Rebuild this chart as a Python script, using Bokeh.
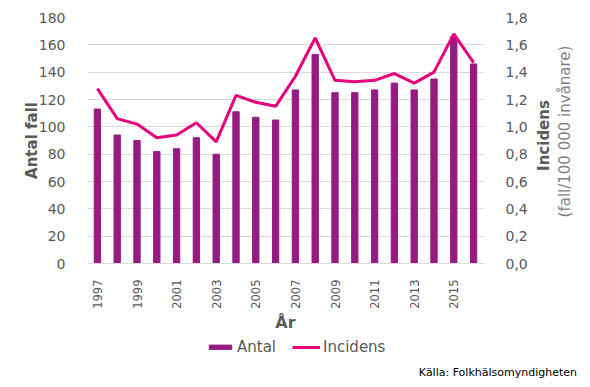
import math
from bokeh.plotting import figure
from bokeh.layouts import row
from bokeh.models import (Range1d, LinearAxis, FixedTicker, CustomJSTickFormatter,
                          Legend, LegendItem, Label)
from bokeh.embed import file_html
from bokeh.resources import INLINE

years = list(range(1997, 2017))
antal = [113, 94, 90, 82, 84, 92, 80, 111, 107, 105, 127, 153, 125, 125, 127, 132, 127, 135, 166, 146]
incidens = [1.28, 1.06, 1.02, 0.92, 0.94, 1.03, 0.89, 1.23, 1.18, 1.15, 1.37, 1.65, 1.34, 1.33, 1.34, 1.39, 1.32, 1.40, 1.68, 1.47]
year_ticks = list(range(1997, 2016, 2))
left_ticks = list(range(0, 181, 20))
right_ticks = [0.0, 0.2, 0.4, 0.6, 0.8, 1.0, 1.2, 1.4, 1.6, 1.8]

FONT = "DejaVu Sans"
GRAY = "#595959"
BAR = "#951B81"
LINE = "#E6007E"

p = figure(width=530, height=334, output_backend="svg", toolbar_location=None,
           x_range=Range1d(1996.5, 2016.5), y_range=Range1d(0, 180),
           min_border_left=87, min_border_right=45, min_border_top=17, min_border_bottom=69)
p.outline_line_color = None
p.extra_y_ranges = {"inc": Range1d(0, 1.8)}

bars = p.vbar(x=years, top=antal, width=0.32, fill_color=BAR, line_color=BAR)
line = p.line(x=years, y=incidens, y_range_name="inc", line_color=LINE, line_width=3)

# x axis
xa = p.xaxis[0]
xa.ticker = FixedTicker(ticks=year_ticks)
xa.major_label_orientation = math.pi / 2
xa.major_label_text_font = FONT
xa.major_label_text_font_size = "11.5px"
xa.major_label_text_color = GRAY
xa.major_label_standoff = 10
xa.major_tick_line_color = None
xa.minor_tick_line_color = None
xa.axis_line_color = "#D9D9D9"
xa.axis_label = "År"
xa.axis_label_text_font = FONT
xa.axis_label_text_font_style = "bold"
xa.axis_label_text_font_size = "16px"
xa.axis_label_text_color = GRAY
xa.axis_label_standoff = 1

# left axis
ya = p.yaxis[0]
ya.ticker = FixedTicker(ticks=left_ticks)
ya.major_label_text_font = FONT
ya.major_label_text_font_size = "14px"
ya.major_label_text_color = GRAY
ya.major_label_standoff = 16
ya.major_tick_line_color = None
ya.minor_tick_line_color = None
ya.axis_line_color = None
ya.axis_label = "Antal fall"
ya.axis_label_text_font = FONT
ya.axis_label_text_font_style = "bold"
ya.axis_label_text_font_size = "15px"
ya.axis_label_text_color = GRAY
ya.axis_label_standoff = -5

p.xgrid.grid_line_color = None
p.ygrid.grid_line_color = "#D9D9D9"
p.ygrid.ticker = FixedTicker(ticks=left_ticks[1:])

# right axis (tick labels)
ra = LinearAxis(y_range_name="inc", ticker=FixedTicker(ticks=right_ticks),
                formatter=CustomJSTickFormatter(code="return tick.toFixed(1).replace('.', ',');"))
ra.major_label_text_font = FONT
ra.major_label_text_font_size = "14px"
ra.major_label_text_color = GRAY
ra.major_label_standoff = 16
ra.major_tick_line_color = None
ra.minor_tick_line_color = None
ra.axis_line_color = None
p.add_layout(ra, "right")

# right-hand titles panel
s = figure(width=60, height=334, output_backend="svg", toolbar_location=None,
           x_range=Range1d(0, 1), y_range=Range1d(0, 180),
           x_axis_location=None, y_axis_location=None,
           min_border_left=0, min_border_right=0, min_border_top=17, min_border_bottom=69)
s.outline_line_color = None
s.xgrid.visible = False
s.ygrid.visible = False
s.add_layout(Label(x=13, y=128, x_units="screen", y_units="screen", text="Incidens",
                   angle=math.pi / 2, text_align="center", text_baseline="middle",
                   text_font=FONT, text_font_size="15px", text_font_style="bold",
                   text_color=GRAY))
s.add_layout(Label(x=34, y=132, x_units="screen", y_units="screen",
                   text="(fall/100 000 invånare)",
                   angle=math.pi / 2, text_align="center", text_baseline="middle",
                   text_font=FONT, text_font_size="15px", text_font_style="normal",
                   text_color="#7F7F7F"))

# footer: legend and source note
f = figure(width=590, height=53, output_backend="svg", toolbar_location=None,
           x_range=Range1d(0, 1), y_range=Range1d(0, 1),
           x_axis_location=None, y_axis_location=None, min_border=0)
f.outline_line_color = None
f.xgrid.visible = False
f.ygrid.visible = False
lbars = f.vbar(x=years, top=antal, width=0.32, fill_color=BAR, line_color=BAR)
lline = f.line(x=years, y=incidens, line_color=LINE, line_width=3)

legend = Legend(items=[LegendItem(label="Antal", renderers=[lbars]),
                       LegendItem(label="Incidens", renderers=[lline])],
                orientation="horizontal", location=(206, 31),
                glyph_width=28, glyph_height=6, label_height=18,
                label_standoff=3, spacing=16, padding=0, margin=0,
                border_line_color=None, background_fill_alpha=0,
                label_text_font=FONT, label_text_font_size="15px",
                label_text_color=GRAY)
f.add_layout(legend, "center")

f.add_layout(Label(x=580, y=15, x_units="screen", y_units="screen",
                   text="Källa:  Folkhälsomyndigheten", text_align="right",
                   text_baseline="middle", text_font=FONT, text_font_size="11px",
                   text_color="#000000"))

open("out.html", "w").write(file_html([row(p, s), f], INLINE))
